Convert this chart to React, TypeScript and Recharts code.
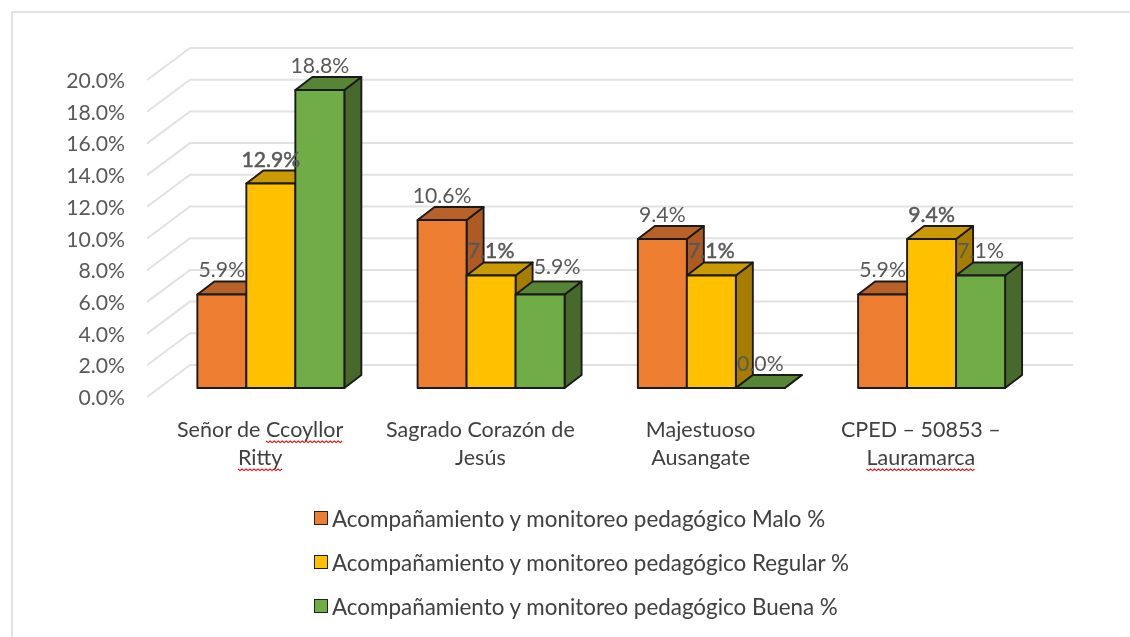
import React from "react";
import { Bar, BarChart, CartesianGrid, LabelList, Legend, XAxis, YAxis } from "recharts";

const categories = ["Señor de Ccoyllor\nRitty", "Sagrado Corazón de\nJesús", "Majestuoso\nAusangate", "CPED – 50853 –\nLauramarca"];
const malo = [5.9, 10.6, 9.4, 5.9];
const regular = [12.9, 7.1, 7.1, 9.4];
const buena = [18.8, 5.9, 0.0, 7.1];
const yTicks = [0, 2, 4, 6, 8, 10, 12, 14, 16, 18, 20];
const misspelled = ["Ccoyllor", "Ritty", "Lauramarca"];

const seriesNames = [
  "Acompañamiento y monitoreo pedagógico Malo %",
  "Acompañamiento y monitoreo pedagógico Regular %",
  "Acompañamiento y monitoreo pedagógico Buena %",
];

const data = categories.map((name, i) => ({ name, malo: malo[i], regular: regular[i], buena: buena[i] }));

const FONT = "Lato, 'Open Sans', sans-serif";
const DEPTH_X = 17;
const DEPTH_Y = 13;
const X_FONT_SIZE = 21.5;

const measure = document.createElement("canvas").getContext("2d")!;
measure.font = `${X_FONT_SIZE}px Lato`;

// front face plus darker top and side, Excel 3D column look
const box3d = (top: string, side: string) => (props: any) => {
  const { x, y, width, height, fill } = props;
  const line = { stroke: "#1a1a1a", strokeWidth: 1.9, strokeLinejoin: "round" as const };
  const r = x + width;
  const b = y + height;
  return (
    <g>
      <polygon points={`${r},${y} ${r + DEPTH_X},${y - DEPTH_Y} ${r + DEPTH_X},${b - DEPTH_Y} ${r},${b}`} fill={side} {...line} />
      <polygon points={`${x},${y} ${x + DEPTH_X},${y - DEPTH_Y} ${r + DEPTH_X},${y - DEPTH_Y} ${r},${y}`} fill={top} {...line} />
      <rect x={x} y={y} width={width} height={height} fill={fill} {...line} />
    </g>
  );
};

const gridLine = (props: any) => {
  const { y1, key } = props;
  return (
    <polyline
      key={key}
      points={`147,${y1 + 9} 190,${y1 - 23} 1073,${y1 - 23}`}
      fill="none"
      stroke="#e2e2e2"
      strokeWidth={2}
    />
  );
};

const YTick = (props: any) => (
  <text x={125} y={props.y + 17} textAnchor="end" fontFamily={FONT} fontSize={21.2} fill="#595959">
    {props.payload.value.toFixed(1)}%
  </text>
);

// spell-check squiggle under a word, like the Word screenshot
const squiggle = (x0: number, x1: number, y: number, key: string) => {
  const pts: string[] = [];
  for (let i = 0, px = x0; px <= x1; i++, px += 2) pts.push(`${px},${y + (i % 2 ? 1.6 : 0)}`);
  return <polyline key={key} points={pts.join(" ")} fill="none" stroke="#dd1111" strokeWidth={1.1} />;
};

const XTick = (props: any) => {
  const lines: string[] = props.payload.value.split("\n");
  const cx = props.x - 11;
  return (
    <g>
      <text textAnchor="middle" fontFamily={FONT} fontSize={X_FONT_SIZE} fill="#404040">
        {lines.map((line, i) => (
          <tspan key={i} x={cx} y={437 + i * 28}>
            {line}
          </tspan>
        ))}
      </text>
      {lines.map((line, i) => {
        const left = cx - measure.measureText(line).width / 2;
        return line.split(" ").map((word, j, words) => {
          if (!misspelled.includes(word)) return null;
          const before = measure.measureText(words.slice(0, j).join(" ") + (j > 0 ? " " : "")).width;
          return squiggle(left + before, left + before + measure.measureText(word).width, 441 + i * 28, `${i}-${j}`);
        });
      })}
    </g>
  );
};

const dataLabel = (emphasis: boolean, shiftAt?: number) => (props: any) => {
  const { x, y, width, value, index } = props;
  const shifted = index === shiftAt;
  return (
    <text
      x={x + width / 2 + (shifted ? 17 : 0)}
      y={y - (shifted ? 20 : 17)}
      textAnchor="middle"
      fontFamily={FONT}
      fontSize={21.2}
      fill="#595959"
      stroke={emphasis ? "#595959" : "none"}
      strokeWidth={emphasis ? 0.5 : 0}
    >
      {value.toFixed(1)}%
    </text>
  );
};

const LegendRows = (props: any) => {
  const rows = [...props.payload].sort((a: any, b: any) => seriesNames.indexOf(a.value) - seriesNames.indexOf(b.value));
  return (
    <div style={{ fontFamily: FONT, fontSize: 22.4, color: "#404040" }}>
      {rows.map((item: any) => (
        <div key={item.value} style={{ display: "flex", alignItems: "center", height: 44, whiteSpace: "nowrap" }}>
          <span style={{ width: 12, height: 12, marginRight: 4, background: item.color, border: "1.5px solid #222" }} />
          {item.value}
        </div>
      ))}
    </div>
  );
};

export default function App() {
  return (
    <div style={{ position: "absolute", left: 0, top: 0, width: 1130, height: 637, background: "#fff", overflow: "hidden", filter: "blur(0.6px)" }}>
      <div style={{ position: "absolute", left: 11, top: 11, right: 0, bottom: -4, border: "2px solid #e4e4e4", borderRight: "none" }} />
      <BarChart
        width={1130}
        height={637}
        data={data}
        barGap={0}
        barCategoryGap="16.5%"
        margin={{ top: 71, right: 88, bottom: 77, left: 61 }}
      >
        <CartesianGrid vertical={false} horizontal={gridLine} />
        <XAxis dataKey="name" height={40} axisLine={false} tickLine={false} interval={0} tick={XTick} />
        <YAxis width={100} domain={[0, 20]} ticks={yTicks} interval={0} axisLine={false} tickLine={false} tick={YTick} />
        <Legend
          layout="vertical"
          align="center"
          content={LegendRows}
          wrapperStyle={{ position: "absolute", left: 314, top: 496, width: "auto" }}
        />
        <Bar dataKey="malo" name={seriesNames[0]} fill="#ed7d31" shape={box3d("#b8622a", "#ad5a23")} isAnimationActive={false}>
          <LabelList dataKey="malo" content={dataLabel(false)} />
        </Bar>
        <Bar dataKey="regular" name={seriesNames[1]} fill="#ffc000" shape={box3d("#c99a06", "#a67d00")} isAnimationActive={false}>
          <LabelList dataKey="regular" content={dataLabel(true)} />
        </Bar>
        <Bar dataKey="buena" name={seriesNames[2]} fill="#70ad47" shape={box3d("#568535", "#47692c")} isAnimationActive={false}>
          <LabelList dataKey="buena" content={dataLabel(false, 1)} />
        </Bar>
      </BarChart>
    </div>
  );
}
